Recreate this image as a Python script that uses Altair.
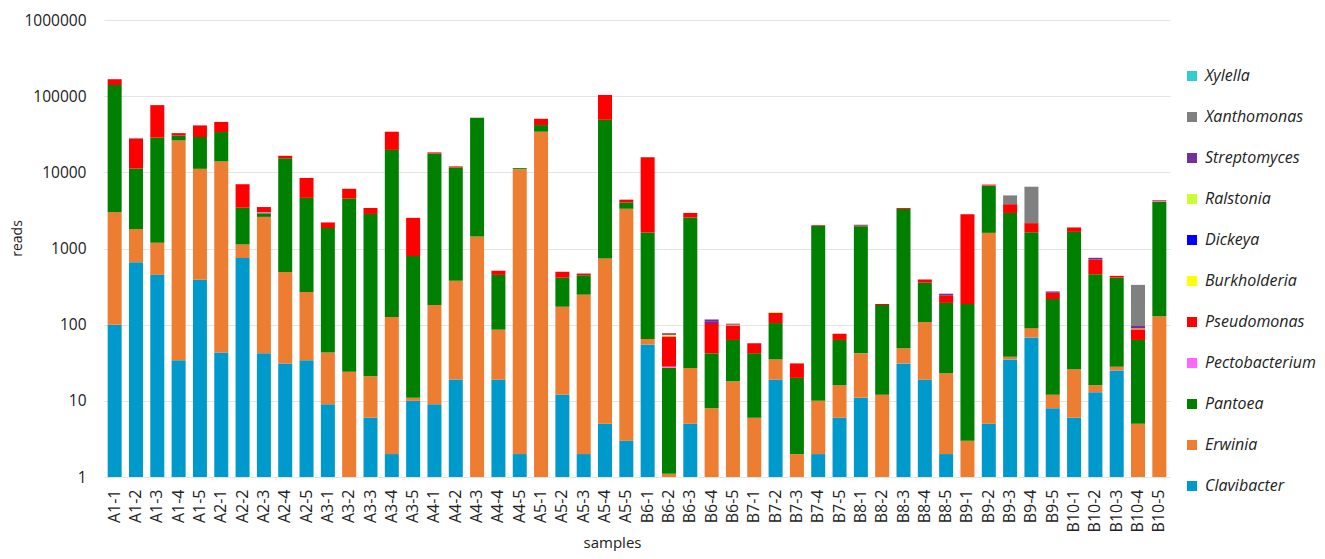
import altair as alt
import pandas as pd

samples = ["A1-1","A1-2","A1-3","A1-4","A1-5","A2-1","A2-2","A2-3","A2-4","A2-5",
           "A3-1","A3-2","A3-3","A3-4","A3-5","A4-1","A4-2","A4-3","A4-4","A4-5",
           "A5-1","A5-2","A5-3","A5-4","A5-5","B6-1","B6-2","B6-3","B6-4","B6-5",
           "B7-1","B7-2","B7-3","B7-4","B7-5","B8-1","B8-2","B8-3","B8-4","B8-5",
           "B9-1","B9-2","B9-3","B9-4","B9-5","B10-1","B10-2","B10-3","B10-4","B10-5"]

clavibacter = [100, 660, 450, 34, 390, 43, 750, 42, 31, 34,
               9, 0, 6, 2, 10, 9, 19, 0, 19, 2,
               0, 12, 2, 5, 3, 55, 0, 5, 0, 0,
               0, 19, 0, 2, 6, 11, 0, 31, 19, 2,
               0, 5, 35, 68, 8, 6, 13, 25, 0, 0]
erwinia = [2900, 1140, 740, 26170, 10730, 13860, 380, 2560, 460, 234,
           34, 24, 15, 124, 1, 172, 357, 1440, 67, 10998,
           34150, 160, 246, 734, 3322, 10, 1.1, 22, 8, 18,
           6, 16, 2, 8, 10, 31, 12, 18, 89, 21,
           3, 1600, 3, 22, 4, 20, 3, 3, 5, 129]
pantoea = [137000, 9440, 27300, 4200, 18000, 19900, 2300, 300, 14800, 4350,
           1815, 4500, 2820, 19570, 785, 17520, 11220, 50700, 364, 350,
           7600, 241, 197, 48200, 700, 1554, 26, 2525, 34, 45,
           36, 70, 18, 1970, 47, 1920, 169, 3240, 248, 170,
           184, 5020, 2890, 1546, 205, 1627, 443, 386, 58, 4020]
pectobacterium = [0, 0, 0, 0, 0, 0, 0, 100, 0, 0,
                  0, 0, 0, 0, 0, 0, 0, 0, 0, 0,
                  0, 0, 0, 0, 0, 0, 1, 0, 0, 0,
                  0, 0, 0, 0, 0, 0, 0, 0, 0, 0,
                  0, 80, 0, 0, 0, 0, 0, 0, 0, 100]
pseudomonas = [27000, 16400, 47800, 2300, 12200, 12100, 3550, 500, 1200, 3820,
               340, 1560, 560, 14450, 1730, 580, 370, 0, 61, 0,
               8740, 82, 24, 54850, 353, 14150, 42, 380, 64, 35,
               15, 38, 11, 45, 13, 60, 6, 105, 36, 50,
               2620, 200, 890, 518, 45, 237, 257, 23, 24, 80]
burkholderia = [0]*26 + [3, 0, 0, 2] + [0]*18 + [2, 0]
dickeya = [0]*26 + [1, 0, 3, 0] + [0]*20
ralstonia = [0]*31 + [4] + [0]*18
streptomyces = [0]*26 + [3, 0, 8, 3] + [0]*9 + [12] + [0]*4 + [11] + [0, 39, 0, 7, 0]
xanthomonas = [0, 700] + [0]*40 + [1160, 4320] + [0]*4 + [237, 0]
xylella = [0]*35 + [40] + [0]*14

stack_order = ["Clavibacter", "Erwinia", "Pantoea", "Pectobacterium", "Pseudomonas",
               "Burkholderia", "Dickeya", "Ralstonia", "Streptomyces", "Xanthomonas", "Xylella"]
series = [clavibacter, erwinia, pantoea, pectobacterium, pseudomonas,
          burkholderia, dickeya, ralstonia, streptomyces, xanthomonas, xylella]
colors = ["#0099CC", "#ED7D31", "#008000", "#FF66FF", "#FF0000",
          "#FFFF00", "#0000FF", "#CCFF33", "#7030A0", "#808080", "#33CCCC"]

rows = []
for k, (g, vals) in enumerate(zip(stack_order, series)):
    for s, v in zip(samples, vals):
        rows.append({"sample": s, "genus": g, "order": k, "reads": v})
df = pd.DataFrame(rows)

legend_order = stack_order[::-1]
legend_colors = colors[::-1]

FONT = "Open Sans"

chart = alt.Chart(df).transform_filter(
    "datum.reads > 0"
).transform_stack(
    stack="reads", groupby=["sample"], as_=["y0", "y1"],
    sort=[alt.SortField("order", order="ascending")]
).transform_calculate(
    yb="max(datum.y0, 1)"
).mark_bar(size=14).encode(
    x=alt.X("sample:N", sort=samples, title="samples",
            scale=alt.Scale(paddingInner=0.34, paddingOuter=0.17),
            axis=alt.Axis(labelAngle=-90, labelFontSize=16, labelFont=FONT,
                          labelColor="#222222", labelPadding=12, ticks=False,
                          domain=False, titleFont=FONT, titleFontSize=15,
                          titleFontWeight="normal", titleColor="#222222",
                          titleX=508, titlePadding=4)),
    y=alt.Y("y1:Q", title="reads",
            scale=alt.Scale(type="log", domain=[1, 1000000], nice=False),
            axis=alt.Axis(values=[1, 10, 100, 1000, 10000, 100000, 1000000],
                          format="d", labelFontSize=15.5, labelFont=FONT,
                          labelColor="#222222", labelPadding=18, ticks=False,
                          domain=False, gridColor="#E4E4E4", gridWidth=1.2,
                          titleFont=FONT, titleFontSize=14, titleFontWeight="normal",
                          titleColor="#222222", titleX=-87, titleY=218,
                          titleBaseline="middle", titleAngle=270)),
    y2="yb:Q",
    color=alt.Color("genus:N",
                    scale=alt.Scale(domain=legend_order, range=legend_colors),
                    legend=alt.Legend(title=None, orient="none", legendX=1080, legendY=48,
                                      symbolType="square", symbolSize=100,
                                      symbolStrokeWidth=0, labelFontSize=16,
                                      labelFont=FONT, labelFontStyle="italic",
                                      labelColor="#222222", rowPadding=25,
                                      labelOffset=5, padding=0)),
).properties(
    width=1066, height=457,
    autosize=alt.AutoSizeParams(type="none"),
    padding={"left": 96, "top": 12, "right": 147, "bottom": 74},
).configure_view(stroke=None)

chart.save("out.html", embed_options={"renderer": "svg", "actions": False})
